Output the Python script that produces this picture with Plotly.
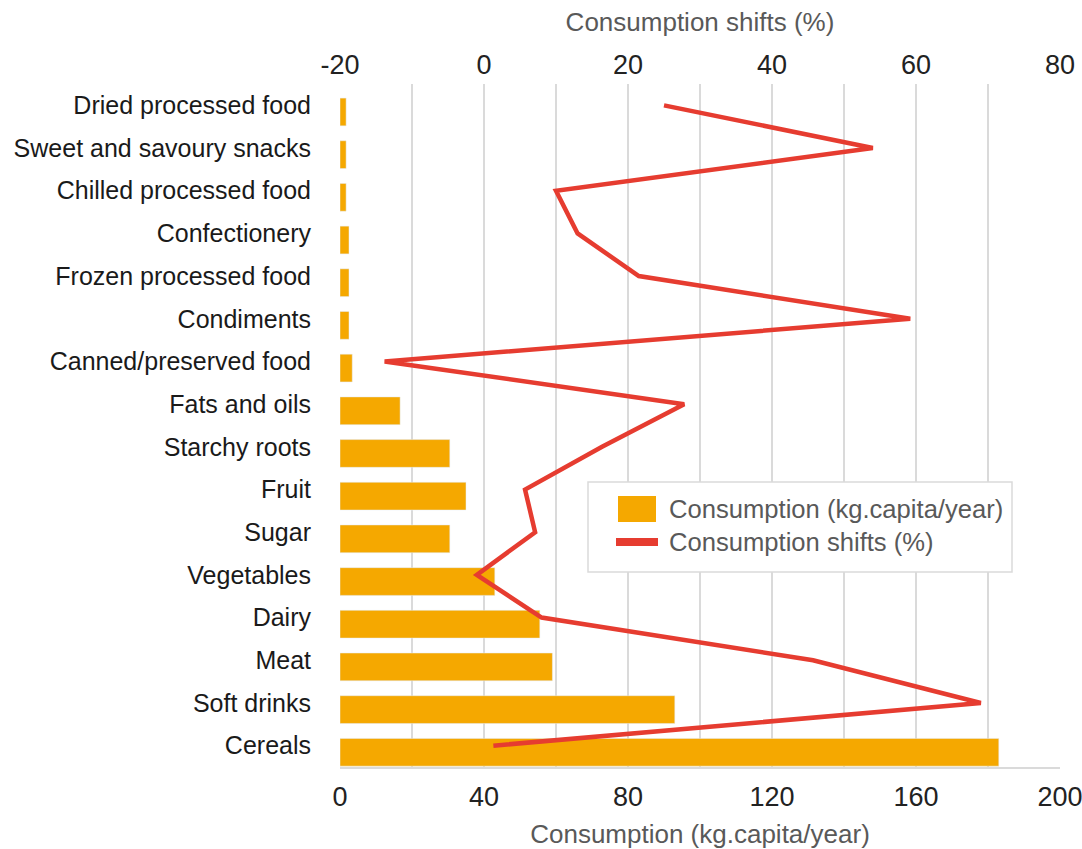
import plotly.graph_objects as go

# ---- data ----
categories = [
    "Dried processed food", "Sweet and savoury snacks", "Chilled processed food",
    "Confectionery", "Frozen processed food", "Condiments", "Canned/preserved food",
    "Fats and oils", "Starchy roots", "Fruit", "Sugar", "Vegetables", "Dairy",
    "Meat", "Soft drinks", "Cereals",
]
consumption_kg = [1.7, 1.7, 1.7, 2.5, 2.5, 2.5, 3.4, 16.7, 30.5, 35.0, 30.5, 43.0, 55.5, 59.0, 93.0, 183.0]
shifts_pct = [25.0, 54.0, 10.0, 13.0, 21.5, 59.2, -13.8, 27.8, 16.4, 5.7, 7.1, -1.0, 8.0, 45.7, 69.0, 1.3]
bottom_ticks = [0, 40, 80, 120, 160, 200]
top_ticks = [-20, 0, 20, 40, 60, 80]
series_names = ["Consumption (kg.capita/year)", "Consumption shifts (%)"]

# ---- style ----
ORANGE = "#F5A800"
RED = "#E63C30"
GRID = "#DADADA"
FONT = "Liberation Sans, Arial, sans-serif"
W, H = 1082, 849
L, R, T, B = 340, 22, 84, 82
PW, PH = W - L - R, H - T - B


def px(x):
    return (x - L) / PW


def py(y):
    return (H - B - y) / PH


fig = go.Figure()
fig.add_trace(go.Bar(
    x=consumption_kg, y=categories, orientation="h", marker_color=ORANGE,
    width=0.65, offset=-0.17,
    name=series_names[0], xaxis="x", yaxis="y", showlegend=False,
))
fig.add_trace(go.Scatter(
    x=shifts_pct, y=categories, mode="lines", line=dict(color=RED, width=4.5),
    name=series_names[1], xaxis="x2", yaxis="y", showlegend=False,
))

tickfont = dict(family=FONT, size=27, color="#222222")
titlefont = dict(family=FONT, size=26, color="#595959")

fig.update_layout(
    width=W, height=H,
    margin=dict(l=L, r=R, t=T, b=B, autoexpand=False),
    paper_bgcolor="white", plot_bgcolor="white",
    showlegend=False,
    xaxis=dict(
        range=[0, 200], tickvals=bottom_ticks, showgrid=True, gridcolor=GRID, gridwidth=1.5,
        minor=dict(dtick=20, tick0=0, showgrid=True, gridcolor=GRID, gridwidth=1.5),
        zeroline=False, showline=True, linecolor=GRID, linewidth=1.5,
        ticks="outside", ticklen=5, tickcolor="rgba(0,0,0,0)",
        tickfont=tickfont, ticklabeloverflow="allow",
        title=dict(text=series_names[0], font=titlefont, standoff=14),
        fixedrange=True,
    ),
    xaxis2=dict(
        range=[-20, 80], tickvals=top_ticks, ticktext=[str(v) for v in top_ticks],
        overlaying="x", side="top",
        showgrid=False, zeroline=False, showline=False,
        ticks="", ticklabelstandoff=4,
        tickfont=tickfont, ticklabeloverflow="allow",
        title=dict(text=series_names[1], font=titlefont, standoff=10),
        anchor="y",
    ),
    yaxis=dict(
        categoryorder="array", categoryarray=categories,
        range=[len(categories) - 0.5, -0.5],
        showgrid=False, zeroline=False, showline=False, ticks="",
        ticklabelstandoff=28,
        tickfont=dict(family=FONT, size=25, color="#1a1a1a"),
    ),
)

# ---- legend drawn as shapes + text ----
fig.add_shape(type="rect", xref="paper", yref="paper",
              x0=px(588), x1=px(1012), y0=py(572), y1=py(482),
              line=dict(color=GRID, width=1.5), fillcolor="white", layer="above")
fig.add_shape(type="rect", xref="paper", yref="paper",
              x0=px(618), x1=px(656), y0=py(522), y1=py(496),
              line=dict(width=0), fillcolor=ORANGE, layer="above")
fig.add_shape(type="line", xref="paper", yref="paper",
              x0=px(616), x1=px(658), y0=py(542), y1=py(542),
              line=dict(color=RED, width=8), layer="above")
for name, yc in zip(series_names, [509, 542]):
    fig.add_annotation(xref="paper", yref="paper", x=px(667), y=py(yc),
                       text=name, showarrow=False, xanchor="left", yanchor="middle",
                       font=dict(family=FONT, size=25.6, color="#595959"))

fig.write_html("out.html")
